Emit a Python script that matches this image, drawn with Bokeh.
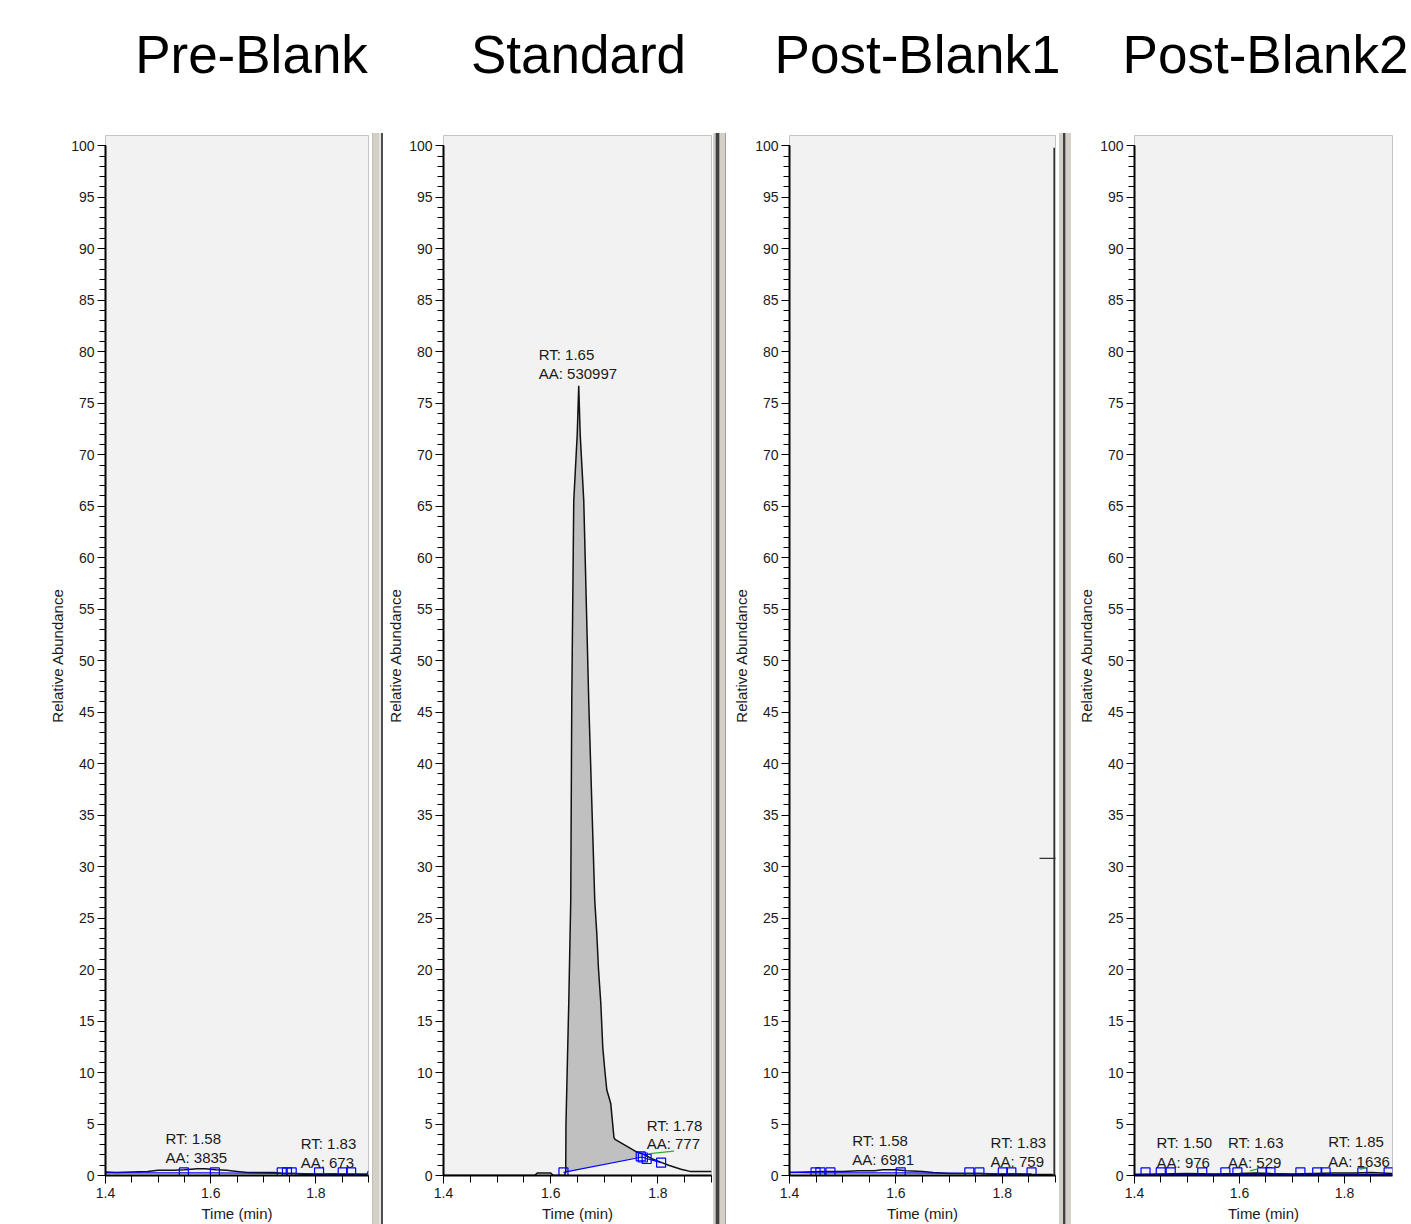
import numpy as np
from bokeh.plotting import figure
from bokeh.models import Div, FixedTicker, Range1d
from bokeh.layouts import row, column
from bokeh.core.properties import value
from bokeh.embed import file_html
from bokeh.resources import INLINE

FONT = "Liberation Sans"

# ---------------- data ----------------
panel_titles = ["Pre-Blank", "Standard", "Post-Blank1", "Post-Blank2"]
title_centers = [251, 578, 917, 1265]

x_major_ticks = [1.4, 1.6, 1.8]
x_minor_ticks = [1.40, 1.45, 1.50, 1.55, 1.60, 1.65, 1.70, 1.75, 1.80, 1.85, 1.90]
y_major_ticks = list(range(0, 101, 5))
y_minor_ticks = list(range(0, 101, 1))

# Pre-Blank
pre_t = [1.40, 1.42, 1.45, 1.48, 1.50, 1.53, 1.55, 1.575, 1.59, 1.61, 1.63, 1.65,
         1.67, 1.70, 1.72, 1.74, 1.76, 1.78, 1.80, 1.83, 1.85, 1.87, 1.90]
pre_y = [0.35, 0.3, 0.35, 0.4, 0.5, 0.5, 0.55, 0.65, 0.65, 0.55, 0.5, 0.4,
         0.3, 0.3, 0.3, 0.2, 0.2, 0.1, 0.1, 0.15, 0.1, 0.1, 0.05]
pre_base_t = [1.400, 1.549, 1.608, 1.735, 1.754, 1.806, 1.851, 1.867, 1.897, 1.900]
pre_base_y = [0.25, 0.25, 0.25, 0.2, 0.2, 0.15, 0.15, 0.15, 0.15, 0.45]
pre_box_t = [1.549, 1.608, 1.735, 1.745, 1.754, 1.806, 1.851, 1.867]
pre_box_y = [0.3, 0.3, 0.3, 0.3, 0.3, 0.3, 0.3, 0.3]
pre_ann_t = [1.514, 1.771]
pre_rt = ["RT: 1.58", "RT: 1.83"]
pre_rt_y = [3.55, 3.1]
pre_aa = ["AA: 3835", "AA: 673"]
pre_aa_y = [1.7, 1.29]

# Standard
std_t = [1.40, 1.57, 1.575, 1.60, 1.605, 1.625, 1.628, 1.6285, 1.6312, 1.6336, 1.6374,
         1.6393, 1.643, 1.6495, 1.6523, 1.655, 1.6617, 1.671, 1.6822, 1.686, 1.689,
         1.6935, 1.6972, 1.701, 1.7047, 1.7103, 1.712, 1.718, 1.72, 1.74, 1.76, 1.775,
         1.79, 1.805, 1.82, 1.843, 1.86, 1.90]
std_y = [0.0, 0.0, 0.25, 0.25, 0.0, 0.0, 0.3, 5.0, 11.2, 16.5, 26.7,
         46.0, 65.5, 72.0, 76.7, 72.0, 65.5, 46.0, 26.7, 23.5, 20.2,
         16.7, 12.4, 10.2, 8.3, 7.3, 7.0, 3.7, 3.5, 2.9, 2.3, 2.0,
         1.6, 1.3, 1.0, 0.6, 0.4, 0.4]
std_base_t = [1.6238, 1.771, 1.778, 1.806]
std_base_y = [0.3, 1.8, 1.65, 1.25]
std_box_t = [1.6238, 1.768, 1.772, 1.779, 1.806]
std_box_y = [0.3, 1.85, 1.75, 1.6, 1.25]
std_green_t = [1.781, 1.830]
std_green_y = [2.1, 2.36]
std_ann_t = [1.5776, 1.779]
std_rt = ["RT: 1.65", "RT: 1.78"]
std_rt_y = [79.7, 4.85]
std_aa = ["AA: 530997", "AA: 777"]
std_aa_y = [77.9, 3.08]

# Post-Blank1
pb1_t = [1.40, 1.43, 1.46, 1.50, 1.53, 1.56, 1.575, 1.60, 1.62, 1.65, 1.67, 1.70,
         1.73, 1.76, 1.79, 1.82, 1.85, 1.87, 1.895]
pb1_y = [0.3, 0.35, 0.4, 0.4, 0.45, 0.45, 0.55, 0.55, 0.45, 0.4, 0.3, 0.2,
         0.2, 0.2, 0.1, 0.15, 0.1, 0.1, 0.1]
pb1_base_t = [1.400, 1.449, 1.458, 1.477, 1.609, 1.738, 1.757, 1.801, 1.817, 1.855]
pb1_base_y = [0.3, 0.25, 0.25, 0.25, 0.25, 0.2, 0.2, 0.15, 0.15, 0.15]
pb1_box_t = [1.449, 1.458, 1.477, 1.609, 1.738, 1.757, 1.801, 1.817, 1.855]
pb1_box_y = [0.3, 0.3, 0.3, 0.3, 0.3, 0.3, 0.3, 0.3, 0.3]
pb1_spike_t = [1.8975, 1.8975]
pb1_spike_y = [0.0, 99.8]
pb1_step_t = [1.870, 1.906]
pb1_step_y = [30.8, 30.8]
pb1_ann_t = [1.518, 1.778]
pb1_rt = ["RT: 1.58", "RT: 1.83"]
pb1_rt_y = [3.4, 3.2]
pb1_aa = ["AA: 6981", "AA: 759"]
pb1_aa_y = [1.52, 1.4]

# Post-Blank2
pb2_t = [1.40, 1.45, 1.50, 1.55, 1.60, 1.63, 1.66, 1.70, 1.74, 1.78, 1.82, 1.85, 1.891]
pb2_y = [0.1, 0.15, 0.2, 0.15, 0.2, 0.25, 0.2, 0.15, 0.2, 0.25, 0.25, 0.3, 0.2]
pb2_base_t = [1.40, 1.421, 1.45, 1.469, 1.529, 1.573, 1.596, 1.643, 1.659, 1.716,
              1.748, 1.764, 1.834, 1.884, 1.891]
pb2_base_y = [0.1, 0.1, 0.1, 0.1, 0.1, 0.1, 0.1, 0.1, 0.1, 0.1, 0.1, 0.1, 0.1, 0.1, 0.1]
pb2_box_t = [1.421, 1.45, 1.469, 1.529, 1.573, 1.596, 1.643, 1.659, 1.716, 1.748,
             1.764, 1.834, 1.884]
pb2_box_y = [0.3, 0.3, 0.3, 0.3, 0.3, 0.3, 0.3, 0.3, 0.3, 0.3, 0.3, 0.3, 0.3]
pb2_green_t = [[1.620, 1.635], [1.830, 1.845]]
pb2_green_y = [[0.45, 0.65], [0.6, 0.8]]
pb2_ann_t = [1.442, 1.578, 1.769]
pb2_rt = ["RT: 1.50", "RT: 1.63", "RT: 1.85"]
pb2_rt_y = [3.2, 3.2, 3.35]
pb2_aa = ["AA: 976", "AA: 529", "AA: 1636"]
pb2_aa_y = [1.26, 1.26, 1.38]

# ---------------- layout constants ----------------
STRIP_H = 133
ROW_H = 1224 - STRIP_H
TRACE_COLOR = "#111111"
BLUE = "#0000ff"
GREEN = "#33aa33"
TEXT_COLOR = "#1a1a1a"


def make_panel(width, bl, br, x_end, tr_t, tr_y, b_t, b_y, box_t, box_y,
               ann_t, rt, rt_y, aa, aa_y):
    p = figure(width=width, height=ROW_H, x_range=Range1d(1.4, x_end),
               y_range=Range1d(0, 101), output_backend="svg", toolbar_location=None,
               min_border_left=bl, min_border_right=br, min_border_top=2,
               min_border_bottom=49)
    p.background_fill_color = "#f2f2f2"
    p.border_fill_color = "white"
    p.outline_line_color = "#c4c4c4"
    p.outline_line_width = 1
    p.xgrid.visible = False
    p.ygrid.visible = False

    ya = p.yaxis[0]
    ya.ticker = FixedTicker(ticks=y_major_ticks, minor_ticks=y_minor_ticks)
    ya.bounds = (0, 100)
    ya.axis_label = "Relative Abundance"
    ya.axis_label_text_font = FONT
    ya.axis_label_text_font_size = "15px"
    ya.axis_label_text_font_style = "normal"
    ya.axis_label_text_color = TEXT_COLOR
    ya.axis_label_standoff = 2
    ya.major_label_text_font = FONT
    ya.major_label_text_font_size = "14px"
    ya.major_label_text_color = TEXT_COLOR
    ya.major_label_standoff = 3
    ya.major_tick_out = 8
    ya.major_tick_in = 0
    ya.minor_tick_out = 6
    ya.minor_tick_in = 0
    ya.axis_line_width = 2
    ya.axis_line_color = "black"
    ya.major_tick_line_color = "black"
    ya.minor_tick_line_color = "black"

    xa = p.xaxis[0]
    xa.ticker = FixedTicker(ticks=x_major_ticks, minor_ticks=x_minor_ticks)
    xa.axis_label = "Time (min)"
    xa.axis_label_text_font = FONT
    xa.axis_label_text_font_size = "15px"
    xa.axis_label_text_font_style = "normal"
    xa.axis_label_text_color = TEXT_COLOR
    xa.axis_label_standoff = 4
    xa.major_label_text_font = FONT
    xa.major_label_text_font_size = "14px"
    xa.major_label_text_color = TEXT_COLOR
    xa.major_label_standoff = 4
    xa.major_tick_out = 8
    xa.major_tick_in = 0
    xa.minor_tick_out = 7
    xa.minor_tick_in = 0
    xa.axis_line_width = 2
    xa.axis_line_color = "black"
    xa.major_tick_line_color = "black"
    xa.minor_tick_line_color = "black"

    p.line(tr_t, tr_y, line_color=TRACE_COLOR, line_width=1.5)
    p.line(b_t, b_y, line_color=BLUE, line_width=1.2)
    p.scatter(box_t, box_y, marker="square", size=9, line_color=BLUE,
              fill_color=None, line_width=1.2)
    p.text(ann_t, rt_y, text=rt, text_font=value(FONT), text_font_size="15px",
           text_color=TEXT_COLOR, text_align="left", text_baseline="middle")
    p.text(ann_t, aa_y, text=aa, text_font=value(FONT), text_font_size="15px",
           text_color=TEXT_COLOR, text_align="left", text_baseline="middle")
    return p


def splitter(parts):
    inner = "".join(
        f'<div style="width:{w}px;height:{ROW_H}px;background:{c};flex:none"></div>'
        for w, c in parts)
    html = f'<div style="display:flex;height:{ROW_H}px;overflow:hidden">{inner}</div>'
    return Div(text=html, width=sum(w for w, _ in parts), height=ROW_H, margin=0)


# Pre-Blank
p1 = make_panel(371, 105, 3, 1.9, pre_t, pre_y, pre_base_t, pre_base_y,
                pre_box_t, pre_box_y, pre_ann_t, pre_rt, pre_rt_y, pre_aa, pre_aa_y)

# Standard
p2 = make_panel(329, 59, 2, 1.9, std_t, std_y, std_base_t, std_base_y,
                std_box_t, std_box_y, std_ann_t, std_rt, std_rt_y, std_aa, std_aa_y)
t_arr = np.array(std_t)
lo, hi = std_base_t[0], std_base_t[1]
fill_t = np.union1d(t_arr[(t_arr >= lo) & (t_arr <= hi)], [lo, hi])
fill_top = np.interp(fill_t, std_t, std_y)
fill_bot = np.interp(fill_t, std_base_t, std_base_y)
fill_top = np.maximum(fill_top, fill_bot)
fill_r = p2.varea(x=fill_t, y1=fill_bot, y2=fill_top, fill_color="#c0c0c0")
p2.renderers.remove(fill_r)
p2.renderers.insert(0, fill_r)
p2.line(std_green_t, std_green_y, line_color=GREEN, line_width=1.2)

# Post-Blank1
p3 = make_panel(329, 61, 2, 1.9, pb1_t, pb1_y, pb1_base_t, pb1_base_y,
                pb1_box_t, pb1_box_y, pb1_ann_t, pb1_rt, pb1_rt_y, pb1_aa, pb1_aa_y)
p3.line(pb1_spike_t, pb1_spike_y, line_color=TRACE_COLOR, line_width=1.4)
p3.line(pb1_step_t, pb1_step_y, line_color="#333333", line_width=1.4)

# Post-Blank2
p4 = make_panel(338, 61, 19, 1.8914, pb2_t, pb2_y, pb2_base_t, pb2_base_y,
                pb2_box_t, pb2_box_y, pb2_ann_t, pb2_rt, pb2_rt_y, pb2_aa, pb2_aa_y)
p4.multi_line(pb2_green_t, pb2_green_y, line_color=GREEN, line_width=1.2)

TAN = "#d4d0c8"
s1 = splitter([(1, "white"), (1, "#c0c0c0"), (6, TAN), (2, "#e4e4e4"), (2, "#505050"), (1, "white")])
s2 = splitter([(2, TAN), (1, "#a0a0a0"), (3, "#404040"), (1, "#a0a0a0"), (5, TAN), (1, "#a0a0a0"), (2, "white")])
s3 = splitter([(2, "white"), (4, TAN), (2, "#404040"), (1, "#a0a0a0"), (5, TAN), (2, "white")])

# title strip
ts = figure(width=1411, height=STRIP_H, x_range=Range1d(0, 1411), y_range=Range1d(0, STRIP_H),
            output_backend="svg", toolbar_location=None, min_border=0)
ts.axis.visible = False
ts.grid.visible = False
ts.outline_line_color = None
ts.background_fill_color = "white"
ts.border_fill_color = "white"
ts.text(title_centers, [79] * len(title_centers), text=panel_titles,
        text_font=value(FONT), text_font_size="53px", text_color="black",
        text_align="center", text_baseline="alphabetic")

layout = column(ts, row(p1, s1, p2, s2, p3, s3, p4, spacing=0), spacing=0)

open("out.html", "w").write(file_html(layout, INLINE))
